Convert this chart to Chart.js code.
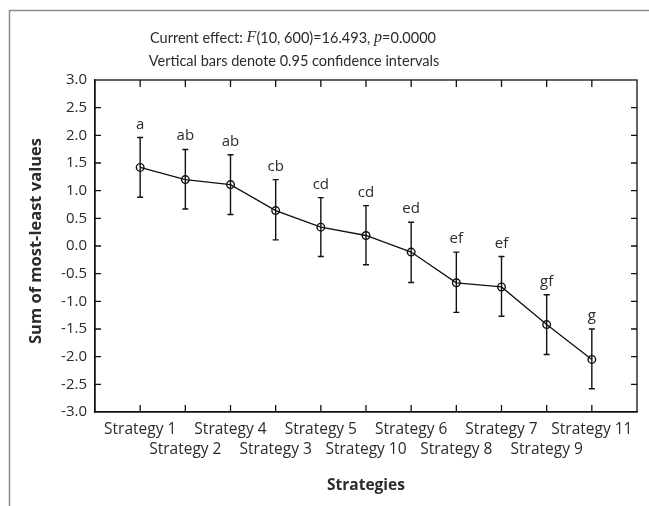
<!DOCTYPE html>
<html>
<head>
<meta charset="utf-8">
<script src="https://cdn.jsdelivr.net/npm/chart.js@4/dist/chart.umd.min.js"></script>
<style>
  html, body { margin: 0; padding: 0; background: #fff; }
  #wrap { width: 649px; height: 506px; }
</style>
</head>
<body>
<div id="wrap"><canvas id="chart" width="649" height="506"></canvas></div>
<script>
// strategies in plotted order
const labels = ['Strategy 1', 'Strategy 2', 'Strategy 4', 'Strategy 3', 'Strategy 5', 'Strategy 10',
    'Strategy 6', 'Strategy 8', 'Strategy 7', 'Strategy 9', 'Strategy 11'];
const means = [1.42, 1.20, 1.11, 0.64, 0.34, 0.19, -0.11, -0.665, -0.74, -1.42, -2.05];
const lower = [0.88, 0.67, 0.57, 0.11, -0.19, -0.34, -0.66, -1.20, -1.27, -1.96, -2.58];
const upper = [1.96, 1.745, 1.65, 1.20, 0.875, 0.73, 0.43, -0.11, -0.19, -0.88, -1.50];
const groups = ['a', 'ab', 'ab', 'cb', 'cd', 'cd', 'ed', 'ef', 'ef', 'gf', 'g'];
const yTicks = [-3, -2.5, -2, -1.5, -1, -0.5, 0, 0.5, 1, 1.5, 2, 2.5, 3];

const FONT = '"Open Sans", sans-serif';
const TFONT = 'Lato, "Open Sans", sans-serif';
const TXT = '#2b2b2b';

const points = means.map((m, i) => ({ x: i + 1, y: m }));

const decor = {
    id: 'decor',
    beforeDraw(chart) {
        const ctx = chart.ctx;
        ctx.save();
        ctx.strokeStyle = '#8c8c8c';
        ctx.lineWidth = 1.5;
        ctx.beginPath();
        ctx.moveTo(9.5, chart.height + 2);
        ctx.lineTo(9.5, 10.5);
        ctx.lineTo(chart.width + 2, 10.5);
        ctx.stroke();
        ctx.restore();
    },
    afterDatasetsDraw(chart) {
        const ctx = chart.ctx;
        const xs = chart.scales.x, ys = chart.scales.y;
        const a = chart.chartArea;
        ctx.save();
        // plot box
        ctx.strokeStyle = '#111';
        ctx.lineWidth = 1.3;
        ctx.strokeRect(a.left, a.top, a.right - a.left, a.bottom - a.top);
        // inner tick marks
        ctx.beginPath();
        for (let i = 1; i < 12; i++) {
            const px = xs.getPixelForValue(i);
            ctx.moveTo(px, a.bottom); ctx.lineTo(px, a.bottom - 7);
            ctx.moveTo(px, a.top); ctx.lineTo(px, a.top + 7);
        }
        yTicks.slice(1, -1).forEach(v => {
            const py = ys.getPixelForValue(v);
            ctx.moveTo(a.left, py); ctx.lineTo(a.left + 6, py);
            ctx.moveTo(a.right, py); ctx.lineTo(a.right - 6, py);
        });
        ctx.stroke();
        // error bars
        ctx.beginPath();
        ctx.lineWidth = 1.4;
        means.forEach((m, i) => {
            const px = xs.getPixelForValue(i + 1);
            const t = ys.getPixelForValue(upper[i]);
            const b = ys.getPixelForValue(lower[i]);
            ctx.moveTo(px, t); ctx.lineTo(px, b);
            ctx.moveTo(px - 3, t); ctx.lineTo(px + 3, t);
            ctx.moveTo(px - 3, b); ctx.lineTo(px + 3, b);
        });
        ctx.stroke();
        // group letters
        ctx.fillStyle = TXT;
        ctx.font = '15px ' + FONT;
        ctx.textAlign = 'center';
        ctx.textBaseline = 'alphabetic';
        groups.forEach((g, i) => {
            ctx.fillText(g, xs.getPixelForValue(i + 1), ys.getPixelForValue(upper[i]) - 9);
        });
        ctx.restore();
    },
    afterDraw(chart) {
        const ctx = chart.ctx;
        ctx.save();
        ctx.fillStyle = TXT;
        ctx.textBaseline = 'middle';
        // title line 1 with italic symbols
        const parts = [
            ['Current effect: ', '14.5px ' + TFONT],
            ['F', 'italic 16px "Liberation Serif", serif'],
            ['(10, 600)=16.493, ', '14.5px ' + TFONT],
            ['p', 'italic 16px "Liberation Serif", serif'],
            ['=0.0000', '14.5px ' + TFONT]
        ];
        let w = 0;
        parts.forEach(p => { ctx.font = p[1]; w += ctx.measureText(p[0]).width; });
        let x = 293 - w / 2;
        ctx.textAlign = 'left';
        parts.forEach(p => {
            ctx.font = p[1];
            ctx.fillText(p[0], x, 38);
            x += ctx.measureText(p[0]).width;
        });
        ctx.font = '14.5px ' + TFONT;
        ctx.textAlign = 'center';
        ctx.fillText('Vertical bars denote 0.95 confidence intervals', 294, 61);
        // y axis title
        ctx.translate(36, 241);
        ctx.rotate(-Math.PI / 2);
        ctx.font = 'bold 16.5px ' + FONT;
        ctx.fillText('Sum of most-least values', 0, 0);
        ctx.restore();
    }
};

new Chart(document.getElementById('chart'), {
    type: 'line',
    data: {
        datasets: [{
            data: points,
            borderColor: '#111',
            borderWidth: 1.3,
            pointStyle: 'circle',
            pointRadius: 3.8,
            pointBorderWidth: 1.4,
            pointBorderColor: '#111',
            pointBackgroundColor: 'rgba(0,0,0,0)',
            fill: false,
            tension: 0
        }]
    },
    options: {
        responsive: false,
        animation: false,
        layout: { padding: { left: 0, top: 80, right: 12, bottom: 0 } },
        plugins: { legend: { display: false }, tooltip: { enabled: false }, title: { display: false } },
        scales: {
            x: {
                type: 'linear',
                min: 0,
                max: 12,
                grid: { display: false, drawTicks: false },
                border: { display: true, color: '#111', width: 1.3 },
                afterFit(scale) { scale.height = 94; },
                ticks: {
                    stepSize: 1,
                    autoSkip: false,
                    maxRotation: 0,
                    minRotation: 0,
                    padding: 7,
                    color: TXT,
                    font: { family: FONT, size: 15.5, lineHeight: 1.32 },
                    callback(v) {
                        if (v < 1 || v > 11) return '';
                        const lab = labels[v - 1];
                        return v % 2 === 1 ? lab : ['', lab];
                    }
                },
                title: {
                    display: true,
                    text: 'Strategies',
                    color: TXT,
                    font: { family: FONT, size: 15.5, weight: 'bold', lineHeight: 1.2 },
                    padding: { top: 0, bottom: 11 }
                }
            },
            y: {
                min: -3,
                max: 3,
                grid: { display: false, drawTicks: false },
                border: { display: true, color: '#111', width: 1.3 },
                afterFit(scale) { scale.width = 95; },
                afterBuildTicks(scale) { scale.ticks = yTicks.map(v => ({ value: v })); },
                ticks: {
                    padding: 8,
                    color: TXT,
                    font: { family: FONT, size: 15 },
                    callback: v => v.toFixed(1)
                }
            }
        }
    },
    plugins: [decor]
});
</script>
</body>
</html>
